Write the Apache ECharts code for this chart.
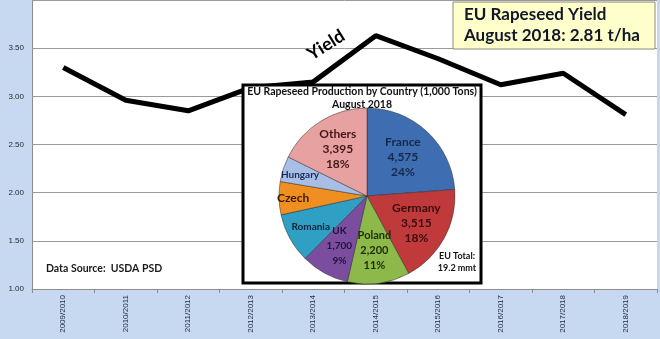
<!DOCTYPE html>
<html>
<head>
<meta charset="utf-8">
<script src="https://cdn.jsdelivr.net/npm/echarts@6/dist/echarts.min.js"></script>
<style>
html,body{margin:0;padding:0;background:#c6d9f0;}
#c{width:660px;height:339px;}
</style>
</head>
<body>
<div id="c"></div>
<script>
// ---- data ----
var years = ['2009/2010','2010/2011','2011/2012','2012/2013','2013/2014','2014/2015','2015/2016','2016/2017','2017/2018','2018/2019'];
var yieldValues = [3.30, 2.96, 2.85, 3.09, 3.15, 3.63, 3.39, 3.12, 3.24, 2.81];
var yTicks = [1.00, 1.50, 2.00, 2.50, 3.00, 3.50, 4.00];

var countries = ['France','Germany','Poland','UK','Romania','Czech','Hungary','Others'];
var production = [4575, 3515, 2200, 1700, 1750, 1165, 900, 3395];
var showValues = ['France','Germany','Poland','UK','Others'];

// ---- styles ----
var sliceColors = ['#3f6db1','#c13a3b','#8cb94a','#7a4d9f','#2f9fc4','#ef8f22','#a9bee6','#e7a1a0'];
var labelColors = ['#13294b','#3a0c0c','#1e2b07','#22113a','#0e2438','#3a1a03','#1b2c55','#431616'];
var labelSizes  = [12, 12, 11, 10, 10, 12, 10, 12];
var radialFactor = [0.60, 0.64, 0.63, 0.65, 0.73, 0.84, 0.80, 0.63];

var PIE_CX = 367, PIE_CY = 196, PIE_R = 88;

var chart = echarts.init(document.getElementById('c'), null, {renderer:'canvas'});

var pieData = countries.map(function(n,i){
  return {
    name:n, value:production[i],
    itemStyle:{color:sliceColors[i]},
    label:{color:labelColors[i], fontSize:labelSizes[i]}
  };
});

var option = {
  backgroundColor:'#c6d9f0',
  animation:false,
  grid:{left:32, right:3, top:-5, bottom:50, show:true, backgroundColor:'#ffffff', borderWidth:0},
  xAxis:{
    type:'category', data:years, boundaryGap:true,
    axisLine:{lineStyle:{color:'#8c8c8c', width:1}},
    axisTick:{show:true, length:4, lineStyle:{color:'#8c8c8c'}},
    axisLabel:{rotate:90, fontSize:8, color:'#22304a', margin:6, fontFamily:'Liberation Sans'}
  },
  yAxis:{
    type:'value', min:yTicks[0], max:yTicks[yTicks.length-1], interval:0.5,
    axisLine:{show:true, lineStyle:{color:'#8c8c8c'}},
    axisTick:{show:false},
    splitLine:{lineStyle:{color:'#9a9a9a', width:1}},
    axisLabel:{fontSize:8, color:'#2b2b2b', margin:8, fontFamily:'Liberation Sans', showMaxLabel:false,
      formatter:function(v){return v.toFixed(2);}}
  },
  series:[
    {
      type:'line', data:yieldValues, z:1, symbol:'none',
      lineStyle:{color:'#000', width:5}
    },
    {
      type:'pie', z:4, center:[PIE_CX, PIE_CY], radius:[0, PIE_R],
      startAngle:90, clockwise:true, data:pieData,
      itemStyle:{borderColor:'rgba(40,40,40,0.6)', borderWidth:0.8},
      label:{
        show:true, position:'inside', fontWeight:'bold', fontFamily:'Lato',
        lineHeight:15, align:'center',
        formatter:function(p){
          if (showValues.indexOf(p.name) >= 0) {
            return p.name + '\n' + p.value.toLocaleString('en-US') + '\n' + Math.round(p.percent) + '%';
          }
          return p.name;
        }
      },
      labelLayout:function(p){
        var r = p.labelRect;
        var lx = r.x + r.width/2, ly = r.y + r.height/2;
        var vx = lx - PIE_CX, vy = ly - PIE_CY;
        var d = Math.sqrt(vx*vx + vy*vy) || 1;
        var target = radialFactor[p.dataIndex] * PIE_R;
        return {dx: vx/d*(target-d), dy: vy/d*(target-d)};
      },
      labelLine:{show:false}
    }
  ],
  graphic:[
    {type:'rect', z:3, shape:{x:243, y:85, width:238, height:198},
      style:{fill:'#ffffff', stroke:'#000000', lineWidth:3}},
    {type:'text', z:5, x:362, y:92, style:{text:'EU Rapeseed Production by Country (1,000 Tons)',
      fontFamily:'Lato', fontWeight:'bold', fontSize:10.5, fill:'#111', align:'center', verticalAlign:'middle'}},
    {type:'text', z:5, x:362, y:105, style:{text:'August 2018',
      fontFamily:'Lato', fontWeight:'bold', fontSize:10.5, fill:'#111', align:'center', verticalAlign:'middle'}},
    {type:'text', z:5, x:457, y:262, style:{text:'EU Total:\n19.2 mmt', lineHeight:12,
      fontFamily:'Lato', fontWeight:'bold', fontSize:9, fill:'#111', align:'center', verticalAlign:'middle'}},
    {type:'rect', z:5, shape:{x:453, y:2, width:202, height:47},
      style:{fill:'#ffffcc', stroke:'#8a8a7a', lineWidth:1}},
    {type:'text', z:6, x:464, y:15, style:{text:'EU Rapeseed Yield',
      fontFamily:'Lato', fontWeight:'bold', fontSize:17, fill:'#111827', align:'left', verticalAlign:'middle'}},
    {type:'text', z:6, x:464, y:36, style:{text:'August 2018: 2.81 t/ha',
      fontFamily:'Lato', fontWeight:'bold', fontSize:17, fill:'#111827', align:'left', verticalAlign:'middle'}},
    {type:'text', z:6, x:326, y:45, rotation:32*Math.PI/180, style:{text:'Yield',
      fontFamily:'Lato', fontWeight:'bold', fontSize:18, fill:'#000', align:'center', verticalAlign:'middle'}},
    {type:'text', z:6, x:46, y:269, style:{text:'Data Source:  USDA PSD',
      fontFamily:'Lato', fontWeight:'bold', fontSize:10.5, fill:'#1a1a1a', align:'left', verticalAlign:'middle'}}
  ]
};
chart.setOption(option);
</script>
</body>
</html>
